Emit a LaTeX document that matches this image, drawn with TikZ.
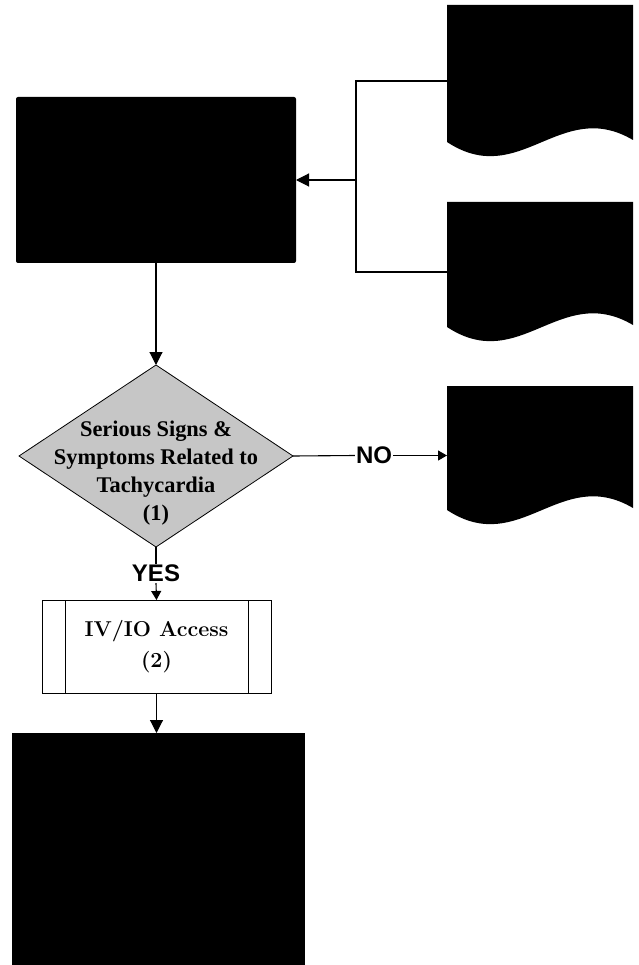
\documentclass[tikz,border=0pt]{standalone}
\usepackage{fontspec}
\newfontfamily\labelsans{Liberation Sans}
\newfontfamily\boxserif{Liberation Serif}
\usetikzlibrary{shapes.geometric,arrows.meta,calc}

% document symbol: flat top, wavy bottom edge (node gives the bounding box)
\newcommand{\drawdoc}[1]{%
  \fill (#1.north west) -- (#1.north east) -- ([yshift=17pt]#1.south east)
    .. controls +(-73pt,43pt) and +(73pt,-48pt) .. ([yshift=15pt]#1.south west) -- cycle;}

\tikzset{
  blackbox/.style={fill=black, inner sep=0pt, outer sep=0pt},
  docbox/.style={inner sep=0pt, outer sep=0pt, minimum width=186pt},
  decision/.style={diamond, draw=black, line width=0.8pt, fill=gray!45,
    inner sep=0pt, outer sep=0pt, minimum width=274pt, minimum height=182pt},
  decisiontext/.style={align=center, font=\boxserif\bfseries\fontsize{22.4}{28}\selectfont},
  procbox/.style={draw=black, line width=0.9pt, fill=white, inner sep=0pt, outer sep=0pt,
    minimum width=229pt, minimum height=93pt, align=center,
    font=\fontsize{21.5}{31}\selectfont\bfseries},
  answer/.style={font=\labelsans\bfseries\fontsize{24}{26}\selectfont, inner sep=1pt},
  link/.style={line width=1.1pt},
  arrowbig/.style={link, -{Triangle[length=13pt,width=13pt]}},
  arrowsmall/.style={link, -{Triangle[length=9pt,width=10pt]}},
}

\begin{document}
\begin{tikzpicture}[x=1pt, y=-1pt]
  \fill[white] (0,0) rectangle (638,965);
  \useasboundingbox (0,0) rectangle (638,965);

  % boxes on the left column
  \node[blackbox, rounded corners=2pt, minimum width=280pt, minimum height=166pt] (main) at (156,180) {};
  \node[decision] (dia) at (156,456) {};
  \node[decisiontext] (diatext) at (156,473) {Serious Signs \&\\Symptoms Related to\\Tachycardia\\(1)};
  \node[answer] (yes) at (156,573.5) {YES};
  \node[procbox] (iv) at (156.5,646.5) {IV/IO Access\\(2)};
  \draw[line width=0.9pt] ([xshift=23pt]iv.north west) -- ([xshift=23pt]iv.south west);
  \draw[line width=0.9pt] ([xshift=-23pt]iv.north east) -- ([xshift=-23pt]iv.south east);
  \node[blackbox, minimum width=293pt, minimum height=232pt] (final) at (158.5,849) {};

  % documents on the right column
  \node[docbox, minimum height=152pt] (docA) at (540,81) {};
  \node[docbox, minimum height=140pt] (docB) at (540,272) {};
  \node[docbox, minimum height=139pt] (docC) at (540,455.5) {};
  \drawdoc{docA}
  \drawdoc{docB}
  \drawdoc{docC}

  \node[answer] (no) at (374,455.5) {NO};

  % connectors
  \coordinate (join) at (356,180);
  \draw[link] (docA.west) -| (join);
  \draw[link] (docB.west) -| (join);
  \draw[arrowbig] (join) -- (main.east);
  \draw[arrowbig] (main.south) -- (dia.north);
  \draw[link] (dia.east) -- (no.west);
  \draw[arrowsmall] (no.east) -- (docC.west);
  \draw[link] (dia.south) -- (yes.north);
  \draw[arrowsmall] (yes.south) -- (iv.north);
  \draw[arrowbig] (iv.south) -- (iv.south |- final.north);
\end{tikzpicture}
\end{document}
